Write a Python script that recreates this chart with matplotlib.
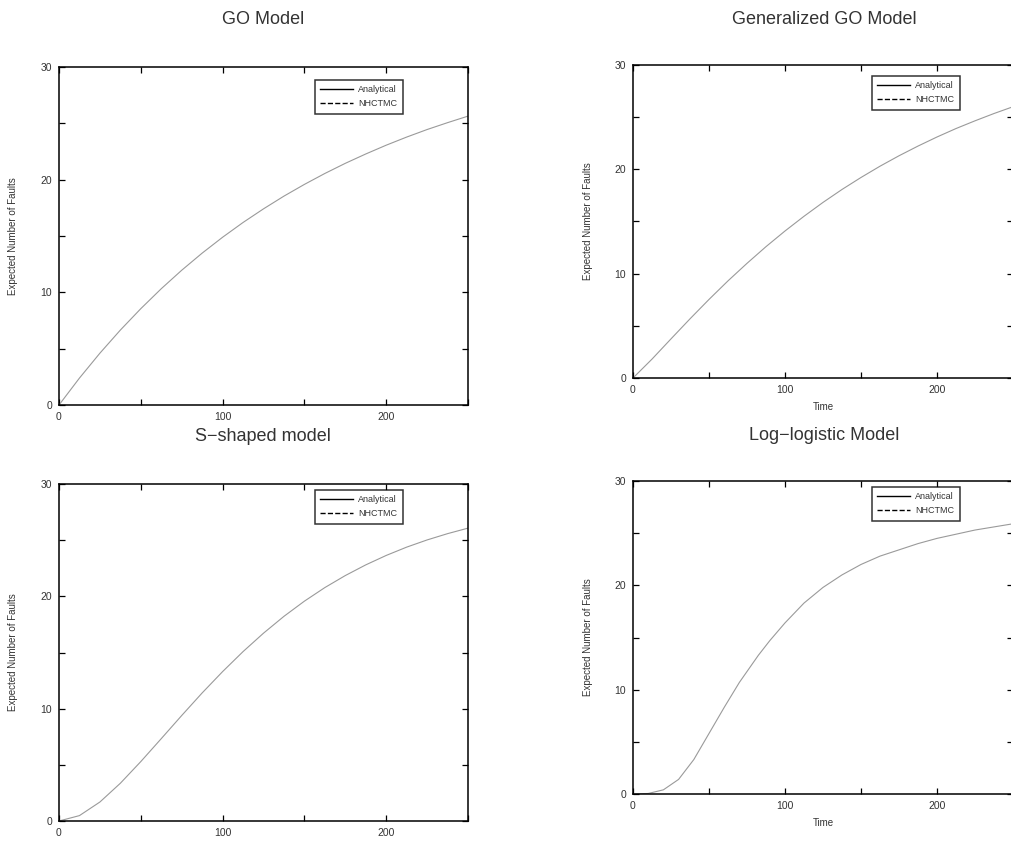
import matplotlib.pyplot as plt
import numpy as np
from matplotlib.lines import Line2D
from matplotlib.ticker import MultipleLocator

plt.rcParams['font.family'] = ['Liberation Sans', 'DejaVu Sans']

# time grid
t = [0, 12.5, 25, 37.5, 50, 62.5, 75, 87.5, 100, 112.5, 125, 137.5, 150,
     162.5, 175, 187.5, 200, 212.5, 225, 237.5, 250]

# expected number of faults
go_vals = [0, 2.39, 4.60, 6.65, 8.55, 10.32, 11.96, 13.48, 14.89, 16.20, 17.41,
           18.54, 19.58, 20.55, 21.45, 22.28, 23.06, 23.78, 24.45, 25.06, 25.64]
ggo_vals = [0, 1.81, 3.75, 5.67, 7.53, 9.31, 10.99, 12.59, 14.09, 15.50, 16.83,
            18.07, 19.22, 20.30, 21.30, 22.23, 23.10, 23.91, 24.65, 25.35, 26.00]
ss_vals = [0, 0.48, 1.69, 3.36, 5.29, 7.33, 9.39, 11.40, 13.30, 15.08, 16.72,
           18.22, 19.57, 20.78, 21.85, 22.80, 23.64, 24.38, 25.02, 25.58, 26.07]

t_ll = [0, 10, 20, 30, 40, 50, 60, 70, 82.5, 90, 100, 112.5, 125, 137.5, 150,
        162.5, 175, 187.5, 200, 212.5, 225, 237.5, 250]
ll_vals = [0, 0.05, 0.4, 1.4, 3.3, 5.8, 8.3, 10.7, 13.3, 14.7, 16.4, 18.3, 19.8,
           21.0, 22.0, 22.8, 23.4, 24.0, 24.5, 24.9, 25.3, 25.6, 25.9]

titles = ['GO Model', 'Generalized GO Model', 'S\u2212shaped model', 'Log\u2212logistic Model']
times = [t, t, t, t_ll]
series = [go_vals, ggo_vals, ss_vals, ll_vals]
legend_labels = ['Analytical', 'NHCTMC']

fig = plt.figure(figsize=(10.11, 8.42), dpi=100)
W, H = 1011.0, 842.0

# axes boxes in pixels: left, top, right, bottom
boxes = [(59, 67, 468, 405), (633, 65, 1013, 378),
         (59, 484, 468, 821), (633, 481, 1013, 794)]
title_pos = [(263, 20), (824, 20), (263, 437), (824, 436)]
ylab_x = [18, 593, 18, 593]
time_label = [False, True, False, True]
leg_box = [(315, 80), (872, 76), (315, 490), (872, 487)]

txt = '#333333'
for i in range(4):
    l, tp, r, b = boxes[i]
    ax = fig.add_axes([l / W, 1 - b / H, (r - l) / W, (b - tp) / H])
    ax.plot(times[i], series[i], color='#9a9a9a', lw=0.8)
    ax.set_xlim(0, 250)
    ax.set_ylim(0, 30)
    ax.xaxis.set_major_locator(MultipleLocator(100))
    ax.xaxis.set_minor_locator(MultipleLocator(50))
    ax.yaxis.set_major_locator(MultipleLocator(10))
    ax.yaxis.set_minor_locator(MultipleLocator(5))
    ax.tick_params(which='both', direction='in', top=True, right=True,
                   length=4, width=0.9, labelsize=7.5, labelcolor=txt, pad=5)
    for sp in ax.spines.values():
        sp.set_linewidth(1.1)
    ax.set_ylabel('Expected Number of Faults', fontsize=7, color=txt)
    ax.yaxis.set_label_coords((ylab_x[i] - l) / (r - l), 0.5)
    if time_label[i]:
        ax.set_xlabel('Time', fontsize=7, color=txt, labelpad=5)
    fig.text(title_pos[i][0] / W, 1 - title_pos[i][1] / H, titles[i],
             ha='center', va='center', fontsize=13, color=txt)
    handles = [Line2D([], [], color='black', lw=1.0),
               Line2D([], [], color='black', lw=1.0, ls='--')]
    lx, ly = leg_box[i]
    leg = ax.legend(handles, legend_labels, loc='upper left',
                    bbox_to_anchor=((lx - l) / (r - l), (b - ly) / (b - tp)),
                    fontsize=6.5, frameon=True, fancybox=False, borderpad=0.6,
                    handlelength=3.6, handletextpad=0.6, labelspacing=0.55,
                    borderaxespad=0)
    leg.get_frame().set_edgecolor('black')
    leg.get_frame().set_linewidth(1.1)
    for tx in leg.get_texts():
        tx.set_color(txt)

fig.savefig('out.png', dpi=100)
